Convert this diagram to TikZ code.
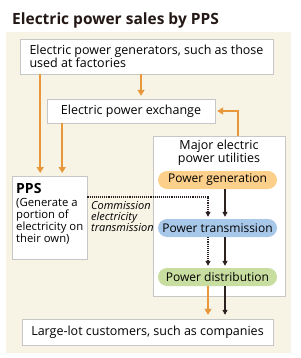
\documentclass[tikz,border=0pt]{standalone}
\usepackage{fontspec}
\setmainfont{Open Sans}
\usepackage{tikz}
\usetikzlibrary{arrows.meta, positioning, calc}
\definecolor{panelbg}{HTML}{F7F4E6}
\definecolor{titlecolor}{HTML}{231815}
\definecolor{arroworange}{HTML}{E8973A}
\definecolor{arrowdark}{HTML}{2B2220}
\definecolor{pillorange}{HTML}{FCD08A}
\definecolor{pillblue}{HTML}{A8C8EA}
\definecolor{pillgreen}{HTML}{C8DDA0}

\begin{document}
\begin{tikzpicture}[x=1pt, y=-1pt,
  font=\fontsize{12.5}{12}\selectfont,
  box/.style={draw=black!22, fill=white, inner sep=3pt},
  pill/.style={rounded corners=9pt, minimum width=119pt, minimum height=18pt, inner sep=0pt, font=\fontsize{12}{12}\selectfont},
  oarrow/.style={-{Triangle[length=6pt,width=7pt]}, draw=arroworange, line width=2pt},
  karrow/.style={-{Triangle[length=5pt,width=5pt]}, draw=arrowdark, line width=1.1pt},
  darrow/.style={karrow, densely dotted}
]
  % panel
  \useasboundingbox (0,0) rectangle (300,358);
  \fill[panelbg] (6,32) rectangle (291,353);
  \node[anchor=base west, font=\fontsize{15.5}{18}\selectfont\bfseries, text=titlecolor, inner sep=0pt] (title) at (12,25) {Electric power sales by PPS};

  % boxes
  \node[box, minimum width=253pt, minimum height=35pt, align=left] (gens) at (146.5,56.5) {Electric power generators, such as those\\used at factories};
  \node[box, minimum width=168pt, minimum height=24pt] (exch) at (131,111) {Electric power exchange};
  \node[box, minimum width=132pt, minimum height=160pt] (util) at (219,216) {};
  \node[anchor=north, align=center, inner sep=0pt, font=\fontsize{12.5}{13.3}\selectfont] (utiltxt) at (219,139.5) {Major electric\\power utilities};
  \node[box, anchor=north west, minimum width=75pt, align=left, inner xsep=3.5pt, inner ysep=7pt, font=\fontsize{11.3}{12}\selectfont] (pps) at (12,176)
    {{\fontsize{14}{16}\selectfont\bfseries PPS}\\[1.5pt](Generate a\\portion of\\electricity on\\their own)\rule[-9pt]{0pt}{9pt}};
  \node[anchor=north west, align=left, font=\fontsize{11}{11}\selectfont\itshape, inner sep=0pt] (comm) at (91,201) {Commission\\electricity\\transmission};
  \node[box, minimum width=251pt, minimum height=26pt] (cust) at (147.5,332) {Large-lot customers, such as companies};

  % utility stages
  \foreach \n/\y/\c/\t in {gen/180/pillorange/Power generation, trans/228/pillblue/Power transmission, dist/277/pillgreen/Power distribution} {
    \node[pill, fill=\c] (\n) at (217.5,\y) {\t};
  }

  % orange flows
  \draw[oarrow, shorten >=3pt] ([xshift=10pt]exch.north |- gens.south) -- ([xshift=10pt]exch.north);
  \draw[oarrow, shorten >=3pt] ([xshift=-9.5pt]pps.north |- gens.south) -- ([xshift=-9.5pt]pps.north);
  \draw[oarrow, shorten >=3pt] ([xshift=12.5pt]pps.north |- exch.south) -- ([xshift=12.5pt]pps.north);
  \draw[oarrow, shorten >=2pt] ([xshift=19pt]util.north) |- (exch.east);
  \draw[oarrow, shorten >=4pt] ([xshift=-9.5pt]dist.south) -- ([xshift=-9.5pt]dist.south |- cust.north);

  % black flows
  \draw[karrow, shorten >=2pt] ([xshift=7.5pt]gen.south) -- ([xshift=7.5pt]trans.north);
  \draw[karrow, shorten >=2pt] ([xshift=7.5pt]trans.south) -- ([xshift=7.5pt]dist.north);
  \draw[karrow, shorten >=4pt] ([xshift=7.5pt]dist.south) -- ([xshift=7.5pt]dist.south |- cust.north);
  \draw[darrow, shorten >=2pt] (pps.north east |- 0,197) -| ([xshift=-9.5pt]trans.north);
  \draw[darrow, shorten >=2pt] ([xshift=-9.5pt]trans.south) -- ([xshift=-9.5pt]dist.north);
\end{tikzpicture}
\end{document}
